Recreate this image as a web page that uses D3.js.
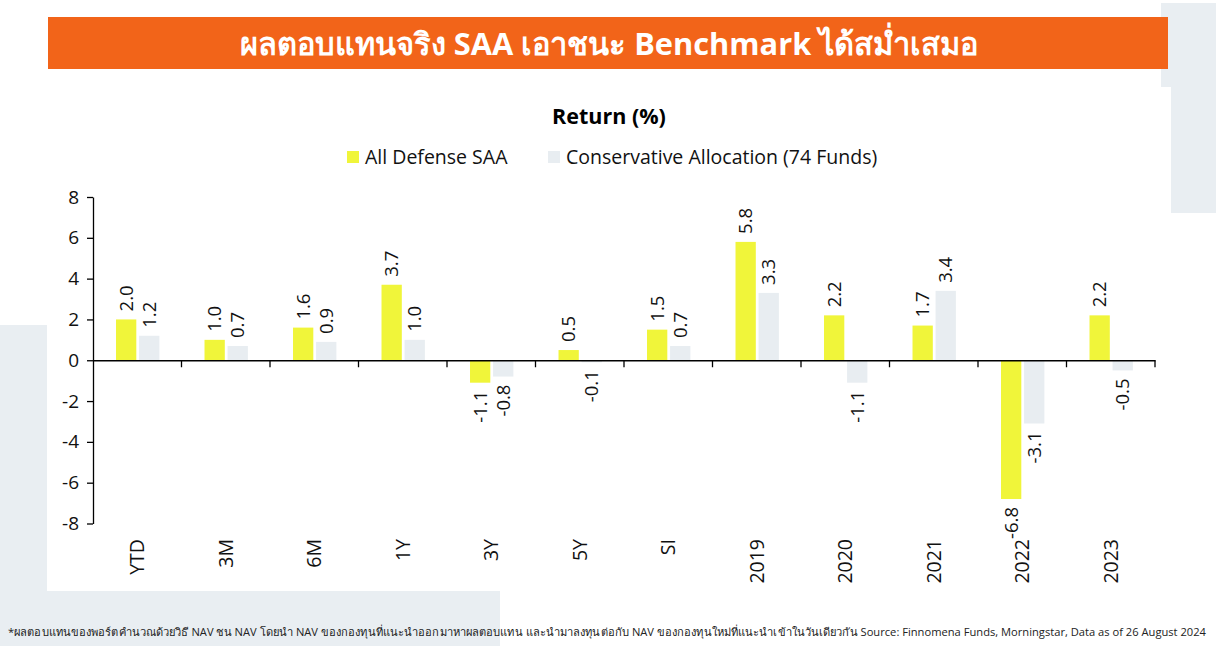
<!DOCTYPE html>
<html>
<head>
<meta charset="utf-8">
<script src="https://cdn.jsdelivr.net/npm/d3@7"></script>
<style>
  body { margin: 0; background: #fff; }
  svg { display: block; font-family: "Open Sans", Lato, "Noto Sans", sans-serif; }
</style>
</head>
<body>
<svg width="1216" height="646"></svg>
<script>
var categories = ["YTD", "3M", "6M", "1Y", "3Y", "5Y", "SI", "2019", "2020", "2021", "2022", "2023"];
var saaValues = [2.0, 1.0, 1.6, 3.7, -1.1, 0.5, 1.5, 5.8, 2.2, 1.7, -6.8, 2.2];
var benchValues = [1.2, 0.7, 0.9, 1.0, -0.8, -0.1, 0.7, 3.3, -1.1, 3.4, -3.1, -0.5];
var seriesNames = ["All Defense SAA", "Conservative Allocation (74 Funds)"];
var yTicks = [-8, -6, -4, -2, 0, 2, 4, 6, 8];

var titleText = "ผลตอบแทนจริง SAA เอาชนะ Benchmark ได้สม่ำเสมอ";
var footText = "*ผลตอบแทนของพอร์ตคำนวณด้วยวิธี NAV ชน NAV โดยนำ NAV ของกองทุนที่แนะนำออกมาหาผลตอบแทน และนำมาลงทุนต่อกับ NAV ของกองทุนใหม่ที่แนะนำเข้าในวันเดียวกัน Source: Finnomena Funds, Morningstar, Data as of 26 August 2024";

var colors = ["#f0f53a", "#e8edf1"];
var bgGray = "#e9eef2";

var fmt = function (v) { return d3.format(".1f")(v).replace("−", "-"); };

var data = categories.map(function (c, i) {
  return { name: c, values: [saaValues[i], benchValues[i]] };
});

var svg = d3.select("svg");

// background decoration
svg.append("rect").attr("x", 1161).attr("y", 3).attr("width", 55).attr("height", 84).attr("fill", bgGray);
svg.append("rect").attr("x", 1171).attr("y", 3).attr("width", 45).attr("height", 210).attr("fill", bgGray);
svg.append("rect").attr("x", 0).attr("y", 325).attr("width", 47).attr("height", 321).attr("fill", bgGray);
svg.append("rect").attr("x", 0).attr("y", 591).attr("width", 500).attr("height", 55).attr("fill", bgGray);

// title bar
svg.append("rect").attr("x", 48).attr("y", 17).attr("width", 1120).attr("height", 52).attr("fill", "#f26419");
svg.append("text")
  .attr("x", 609).attr("y", 44).attr("dy", "0.35em")
  .attr("text-anchor", "middle")
  .attr("fill", "#fff").attr("font-size", 30.8).attr("font-weight", "bold")
  .text(titleText);

svg.append("text")
  .attr("x", 609).attr("y", 116).attr("dy", "0.35em")
  .attr("text-anchor", "middle")
  .attr("font-size", 21.5).attr("font-weight", "bold").attr("fill", "#000")
  .text("Return (%)");

// legend
var legendX = [347, 548];
var legend = svg.append("g").selectAll("g")
  .data(seriesNames)
  .enter().append("g")
    .attr("transform", function (d, i) { return "translate(" + legendX[i] + ",151)"; });
legend.append("rect").attr("width", 12).attr("height", 12).attr("fill", function (d, i) { return colors[i]; });
legend.append("text")
  .attr("x", 18).attr("y", 6).attr("dy", "0.35em")
  .attr("font-size", 19.5).attr("fill", "#111")
  .text(function (d) { return d; });

// scales
var x0 = d3.scaleBand().domain(categories).range([93, 1155]).padding(0);
var x1 = d3.scaleBand().domain([0, 1])
  .range([x0.bandwidth() * 0.26, x0.bandwidth() * 0.75])
  .paddingInner(0.12);
var y = d3.scaleLinear().domain([-8, 8]).range([523.5, 197]);

// bars
var groups = svg.append("g").selectAll("g")
  .data(data)
  .enter().append("g")
    .attr("transform", function (d) { return "translate(" + x0(d.name) + ",0)"; });

var cells = groups.selectAll("g")
  .data(function (d) { return d.values.map(function (v, i) { return { key: i, value: v }; }); })
  .enter().append("g");

cells.append("rect")
  .attr("x", function (d) { return x1(d.key); })
  .attr("y", function (d) { return y(Math.max(0, d.value)); })
  .attr("width", x1.bandwidth())
  .attr("height", function (d) { return Math.abs(y(d.value) - y(0)); })
  .attr("fill", function (d) { return colors[d.key]; });

cells.append("text")
  .attr("transform", function (d) {
    var cx = x1(d.key) + x1.bandwidth() / 2;
    var ty = d.value >= 0 ? y(d.value) - 8 : y(d.value) + 8;
    return "translate(" + cx + "," + ty + ") rotate(-90)";
  })
  .attr("dy", "0.35em")
  .attr("text-anchor", function (d) { return d.value >= 0 ? "start" : "end"; })
  .attr("font-size", 18.5).attr("fill", "#111")
  .text(function (d) { return fmt(d.value); });

// x axis at zero
var xAxis = svg.append("g")
  .attr("transform", "translate(0," + y(0) + ")")
  .call(d3.axisBottom(x0).tickSize(0).tickFormat(""));
xAxis.select(".domain").attr("stroke", "#000").attr("stroke-width", 1.3);
xAxis.selectAll(".tick").remove();
xAxis.selectAll(".sep")
  .data(categories)
  .enter().append("line")
    .attr("x1", function (d) { return x0(d) + x0.bandwidth(); })
    .attr("x2", function (d) { return x0(d) + x0.bandwidth(); })
    .attr("y1", 0).attr("y2", 7)
    .attr("stroke", "#000").attr("stroke-width", 1.3);

// category labels
svg.append("g").selectAll("text")
  .data(categories)
  .enter().append("text")
    .attr("transform", function (d) {
      return "translate(" + (x0(d) + x0.bandwidth() / 2) + ",539) rotate(-90)";
    })
    .attr("dy", "0.35em")
    .attr("text-anchor", "end")
    .attr("font-size", 19.5).attr("fill", "#111")
    .text(function (d) { return d; });

// y axis
var yAxis = svg.append("g")
  .attr("transform", "translate(93,0)")
  .call(d3.axisLeft(y).tickValues(yTicks).tickSize(6).tickSizeOuter(0).tickPadding(8)
    .tickFormat(function (d) { return String(d); }));
yAxis.select(".domain").attr("stroke", "#000").attr("stroke-width", 1.3);
yAxis.selectAll(".tick line").attr("stroke", "#000").attr("stroke-width", 1.3);
yAxis.selectAll(".tick text").attr("font-size", 19).attr("fill", "#111")
  .attr("font-family", "'Open Sans', Lato, sans-serif");

// footnote
svg.append("text")
  .attr("x", 8).attr("y", 636)
  .attr("font-size", 11).attr("fill", "#222")
  .attr("textLength", 1198).attr("lengthAdjust", "spacingAndGlyphs")
  .text(footText);
</script>
</body>
</html>
